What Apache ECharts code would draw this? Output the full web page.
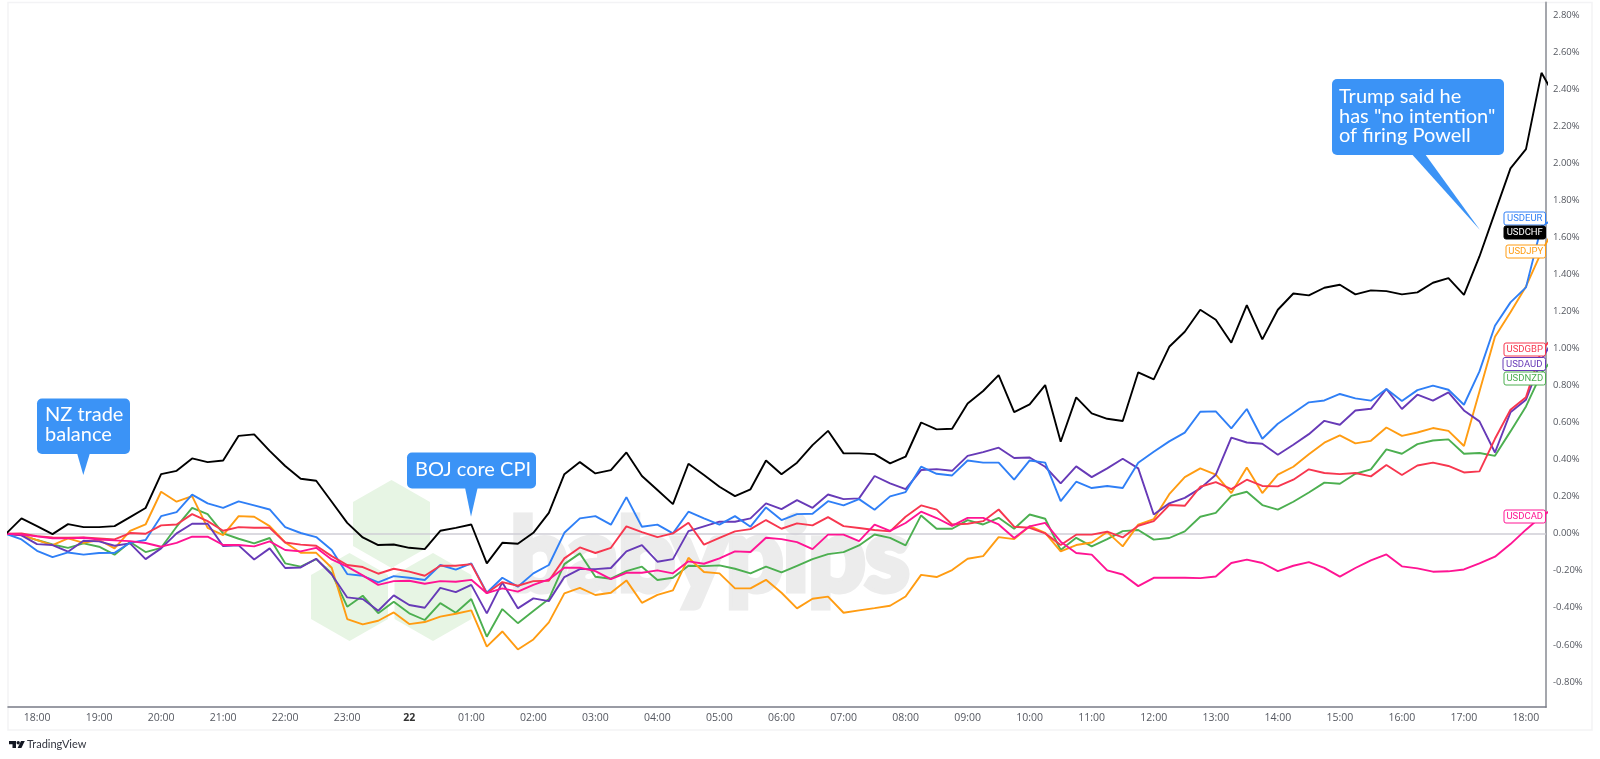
<!DOCTYPE html>
<html>
<head>
<meta charset="utf-8">
<style>
  html, body { margin: 0; padding: 0; background: #fff; }
  #main { width: 1600px; height: 759px; }
</style>
<script src="https://cdn.jsdelivr.net/npm/echarts@6/dist/echarts.min.js"></script>
</head>
<body>
<div id="main"></div>
<script>
// 15 minute bars, first one is 17:30
const hourTicks = [2, 6, 10, 14, 18, 22, 26, 30, 34, 38, 42, 46, 50, 54, 58, 62, 66, 70, 74, 78, 82, 86, 90, 94, 98];
const hourLabels = ["18:00", "19:00", "20:00", "21:00", "22:00", "23:00", "22", "01:00", "02:00", "03:00", "04:00", "05:00", "06:00", "07:00", "08:00", "09:00", "10:00", "11:00", "12:00", "13:00", "14:00", "15:00", "16:00", "17:00", "18:00"];
const pctTicks = [-0.8, -0.6, -0.4, -0.2, 0, 0.2, 0.4, 0.6, 0.8, 1, 1.2, 1.4, 1.6, 1.8, 2, 2.2, 2.4, 2.6, 2.8];

const usdchf = [0, .083, .041, -.002, .052, .036, .036, .041, .09, .139, .322, .34, .407, .387, .396, .529, .537, .448, .366, .297, .286, .173, .059, -.02, -.061, -.058,
  -.076, -.083, .016, .032, .05, -.16, -.049, -.054, .005, .113, .322, .387, .326, .344, .439, .312, .236, .16, .378, .317, .254, .203, .24, .396, .321, .384,
  .479, .556, .434, .434, .43, .38, .416, .601, .564, .567, .704, .771, .857, .657, .699, .803, .497, .737, .65, .621, .609,
  .872, .834, 1.01, 1.091, 1.21, 1.156, 1.032, 1.235, 1.05,
  1.21, 1.298, 1.288, 1.329, 1.345, 1.293, 1.315, 1.311, 1.293, 1.304, 1.356, 1.381, 1.291, 1.498, 1.736, 1.974, 2.078, 2.49, 2.343];
const usdeur = [0, -.031, -.092, -.126, -.101, -.113, -.104, -.103, -.049, -.034, .095, .117, .211, .164, .14, .175, .153, .131, .036, .004, -.018, -.088, -.218, -.227, -.263, -.229,
  -.238, -.25, -.169, -.194, -.16, -.319, -.238, -.286, -.214, -.169, .005, .083, .095, .049, .198, .038, .049, .002, .119, .083, .049, .095, .038, .142, .074, .106,
  .108, .176, .153, .187, .13, .202, .225, .362, .324, .315, .396, .384, .384, .292, .396, .384, .176, .281, .247, .258, .247, .384, .443, .499, .546, .659,
  .661, .569, .674, .513, .594, .652, .71, .72, .755, .731, .719, .782, .717, .776, .8, .778, .697, .877, 1.124, 1.25, 1.331, 1.662, 1.71];
const usdjpy = [0, -.007, -.034, -.061, -.025, -.049, -.034, -.079, .016, .05, .227, .173, .203, .032, -.007, .095, .092, .041, -.047, -.103, -.103, -.184, -.461, -.49, -.47, -.425,
  -.488, -.477, -.448, -.432, -.414, -.61, -.528, -.625, -.571, -.479, -.322, -.292, -.331, -.319, -.252, -.373, -.33, -.306, -.13, -.207, -.214, -.295, -.295, -.249, -.319, -.403,
  -.351, -.34, -.427, -.414, -.402, -.389, -.339, -.222, -.234, -.196, -.135, -.121, -.018, -.029, .041, .005, -.095, -.061, -.047, .009, -.068, .049, .079, .214, .306, .353,
  .319, .22, .358, .22, .319, .362, .43, .492, .531, .488, .502, .574, .529, .547, .571, .556, .474, .769, 1.064, 1.196, 1.336, 1.523, 1.678];
const usdnzd = [0, -.007, -.034, -.058, -.076, -.052, -.07, -.113, -.045, -.099, -.076, .038, .14, .106, .002, -.027, -.052, -.023, -.16, -.178, -.137, -.214, -.394, -.335, -.429, -.367,
  -.43, -.466, -.375, -.427, -.353, -.556, -.407, -.483, -.418, -.353, -.164, -.106, -.232, -.243, -.202, -.178, -.25, -.238, -.173, -.175, -.171, -.189, -.214, -.178, -.209, -.173,
  -.137, -.11, -.099, -.063, -.004, -.022, -.063, .099, .027, .027, .074, .05, .086, .027, .104, .081, -.088, -.022, -.068, -.029, .014, .02, -.032, -.023, .013, .092,
  .113, .205, .227, .155, .13, .173, .223, .276, .27, .324, .348, .456, .432, .484, .504, .51, .432, .436, .421, .553, .688, .868, .976];
const usdaud = [0, -.009, -.056, -.061, -.097, -.038, -.041, -.065, -.052, -.137, -.079, .002, .054, .054, -.067, -.063, -.139, -.079, -.185, -.182, -.135, -.22, -.344, -.353, -.416, -.333,
  -.385, -.4, -.292, -.315, -.276, -.43, -.263, -.403, -.349, -.364, -.234, -.191, -.191, -.185, -.095, -.061, -.151, -.137, .014, .04, .065, .065, .083, .164, .133, .182,
  .14, .212, .187, .191, .312, .272, .241, .344, .349, .34, .421, .441, .465, .409, .412, .362, .272, .364, .306, .353, .405, .353, .104, .164, .194, .245,
  .319, .519, .493, .486, .427, .481, .538, .61, .589, .666, .675, .782, .674, .751, .719, .764, .666, .607, .439, .656, .724, .94, 1.084];
const usdgbp = [0, .002, -.013, -.02, -.022, -.02, -.025, -.031, .004, 0, .045, .05, .106, .068, .016, .036, .032, .032, -.047, -.059, -.065, -.121, -.169, -.18, -.216, -.189,
  -.205, -.227, -.173, -.173, -.164, -.322, -.261, -.281, -.256, -.254, -.133, -.074, -.104, -.076, .04, .009, -.018, .002, .059, -.059, -.022, .013, .025, .074, .027, .056,
  .045, .09, .041, .031, .02, .013, .092, .153, .13, .05, .054, .068, .131, .038, .032, .002, -.061, -.005, -.005, .011, -.02, .043, .068, .155, .151, .254,
  .279, .241, .292, .258, .256, .292, .348, .328, .322, .328, .31, .371, .317, .369, .384, .366, .331, .337, .513, .67, .738, .994, 1.084];
const usdcad = [0, -.004, -.014, -.025, -.025, -.022, -.031, -.036, -.04, -.05, -.07, -.049, -.016, -.016, -.061, -.061, -.068, -.041, -.088, -.095, -.076, -.139, -.178, -.225, -.276, -.256,
  -.254, -.27, -.256, -.259, -.249, -.321, -.295, -.313, -.276, -.247, -.184, -.184, -.202, -.245, -.211, -.211, -.198, -.214, -.149, -.162, -.133, -.095, -.099, -.022, -.029, -.045,
  -.083, -.005, -.005, -.04, .049, .016, .058, .119, .085, .043, .086, .086, .05, -.023, .04, .059, -.043, -.104, -.113, -.198, -.22, -.283, -.238, -.238, -.238, -.24,
  -.231, -.158, -.14, -.158, -.202, -.173, -.153, -.184, -.232, -.185, -.144, -.112, -.176, -.187, -.205, -.203, -.193, -.16, -.124, -.056, .022, .094, .148];

const FONT = '"Open Sans", sans-serif';
const BUBBLE = "#3b93f6";

let chart = echarts.init(document.getElementById("main"), null, { renderer: "canvas" });

// line series, drawn back to front
const pairs = [
  { name: "USDNZD", color: "#4caf50", values: usdnzd },
  { name: "USDJPY", color: "#ff9c12", values: usdjpy },
  { name: "USDAUD", color: "#673ab7", values: usdaud },
  { name: "USDEUR", color: "#2f7ff6", values: usdeur },
  { name: "USDGBP", color: "#f7374f", values: usdgbp },
  { name: "USDCAD", color: "#ff1493", values: usdcad },
  { name: "USDCHF", color: "#000000", values: usdchf },
];

// tags on the price scale, y is the top of the box
const tags = [
  { text: "USDEUR", x: 1504, y: 212, color: "#2f7ff6" },
  { text: "USDCHF", x: 1504, y: 226, color: "#000000", fill: "#000000", textColor: "#ffffff" },
  { text: "USDJPY", x: 1506, y: 245, color: "#ff9c12" },
  { text: "USDGBP", x: 1504, y: 343, color: "#f7374f" },
  { text: "USDAUD", x: 1503, y: 357.5, color: "#673ab7" },
  { text: "USDNZD", x: 1504, y: 372, color: "#4caf50" },
  { text: "USDCAD", x: 1504, y: 510, color: "#ff1493" },
];

let tagShapes = tags.map((t) => ({
  type: "group",
  children: [
    { type: "rect", z: 100, shape: { x: t.x, y: t.y, width: 1545.5 - t.x, height: 13, r: 2 }, style: { fill: t.fill || "#fff", stroke: t.color, lineWidth: 1 } },
    { type: "text", z: 101, style: { x: (t.x + 1545.5) / 2, y: t.y + 6.8, text: t.text, fill: t.textColor || t.color, font: "9.5px Roboto, sans-serif", align: "center", verticalAlign: "middle" } },
  ],
}));

function callout(box, base, tip, lines, textX, lineYs) {
  let out = [
    { type: "polygon", z: 100, shape: { points: [[base[0], box.y + box.h - 1], [base[1], box.y + box.h - 1], tip] }, style: { fill: BUBBLE } },
    { type: "rect", z: 100, shape: { x: box.x, y: box.y, width: box.w, height: box.h, r: 5 }, style: { fill: BUBBLE } },
  ];
  lines.forEach((l, i) => {
    out.push({ type: "text", z: 101, style: { x: textX, y: lineYs[i], text: l, fill: "#fff", font: "20px Lato, sans-serif", verticalAlign: "middle" } });
  });
  return out;
}

function hexagon(cx, cy) {
  return {
    type: "polygon",
    z: 0,
    shape: { points: [[cx, cy - 44], [cx + 38.5, cy - 22], [cx + 38.5, cy + 22], [cx, cy + 44], [cx - 38.5, cy + 22], [cx - 38.5, cy - 22]] },
    style: { fill: "#e7f5e4" },
  };
}

let option = {
  backgroundColor: "#ffffff",
  animation: false,
  grid: { left: 8, right: 54, top: 2.5, bottom: 52, show: false },
  xAxis: {
    type: "value",
    min: 0.129,
    max: 99.29,
    axisLine: { show: true, onZero: false, lineStyle: { color: "#787b86", width: 1.5 } },
    axisTick: { show: false },
    splitLine: { show: false },
    axisLabel: {
      customValues: hourTicks,
      margin: 6,
      hideOverlap: false,
      formatter: (v) => {
        let s = hourLabels[hourTicks.indexOf(v)];
        return s === "22" ? "{b|22}" : s;
      },
      color: "#555860",
      fontFamily: FONT,
      fontSize: 10.5,
      rich: { b: { fontWeight: "bold", color: "#333", fontFamily: FONT, fontSize: 10.5 } },
    },
  },
  yAxis: {
    type: "value",
    position: "right",
    min: -0.936,
    max: 2.87,
    axisLine: { show: true, onZero: false, lineStyle: { color: "#a5a7ad", width: 2 } },
    axisTick: { show: false },
    splitLine: { show: false },
    axisLabel: {
      customValues: pctTicks,
      margin: 7,
      formatter: (v) => v.toFixed(2) + "%",
      color: "#555860",
      fontFamily: FONT,
      fontSize: 9.5,
    },
  },
  series: pairs.map((p, i) => ({
    name: p.name,
    type: "line",
    data: p.values.map((v, k) => [k, v]),
    showSymbol: false,
    clip: true,
    lineStyle: { color: p.color, width: 1.9 },
    itemStyle: { color: p.color },
    z: 3 + i,
    markLine: i === 0 ? {
      silent: true,
      symbol: "none",
      label: { show: false },
      lineStyle: { color: "#cfced6", width: 1.5, type: "solid" },
      z: 1,
      data: [{ yAxis: 0 }],
    } : undefined,
  })),
  graphic: {
    elements: [
      // frame around the chart
      { type: "rect", z: -2, shape: { x: 8, y: 2.5, width: 1584, height: 727.5 }, style: { fill: "none", stroke: "#f3f3f5", lineWidth: 1.5 } },
      // babypips watermark
      hexagon(391.5, 524),
      hexagon(349.5, 597),
      hexagon(433, 597),
      { type: "text", z: 0, style: { x: 710, y: 558, text: "babypips", fill: "#ececec", stroke: "#ececec", lineWidth: 7, font: "bold 100px Lato, sans-serif", align: "center", verticalAlign: "middle" } },
      ...callout({ x: 37, y: 398.5, w: 93, h: 55.5 }, [77, 90], [83.3, 475], ["NZ trade", "balance"], 45, [415, 434.5]),
      ...callout({ x: 407, y: 452.5, w: 129, h: 36 }, [465, 477.7], [471, 516.7], ["BOJ core CPI"], 415, [469.5]),
      ...callout({ x: 1332, y: 79, w: 172, h: 76 }, [1411.7, 1425], [1480, 230], ["Trump said he", "has \"no intention\"", "of firing Powell"], 1339, [97, 116.5, 136]),
      ...tagShapes,
      // TradingView mark
      { type: "polygon", z: 5, shape: { points: [[9, 741], [16, 741], [16, 748], [12.5, 748], [12.5, 744.3], [9, 744.3]] }, style: { fill: "#131722" } },
      { type: "circle", z: 5, shape: { cx: 18.2, cy: 742.7, r: 1.7 }, style: { fill: "#131722" } },
      { type: "polygon", z: 5, shape: { points: [[21, 741], [24.8, 741], [21.4, 748], [17.6, 748]] }, style: { fill: "#131722" } },
      { type: "text", z: 5, style: { x: 27, y: 744.5, text: "TradingView", fill: "#333640", font: "11px Lato, sans-serif", verticalAlign: "middle" } },
    ],
  },
};

chart.setOption(option);
</script>
</body>
</html>
